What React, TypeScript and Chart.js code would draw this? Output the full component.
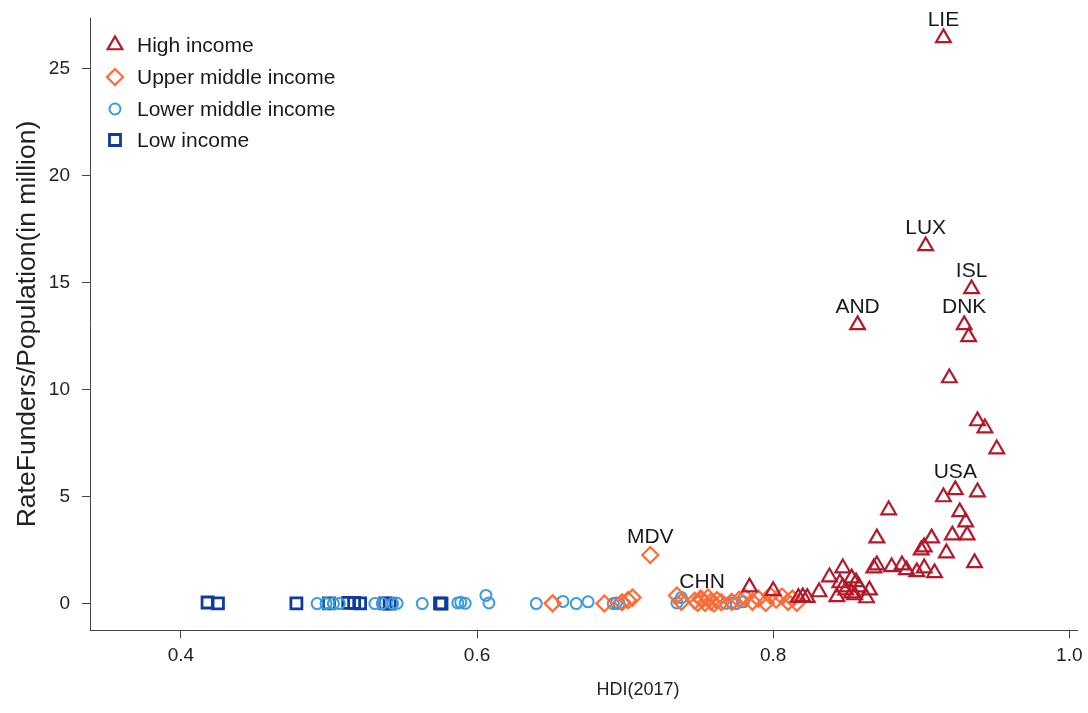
import React, { useEffect, useRef } from 'react';
import { Chart, registerables } from 'chart.js';

Chart.register(...registerables);

const FONT = "'Liberation Sans', Arial, Helvetica, sans-serif";

// ---- Data (HDI 2017 vs RateFunders/Population in million) ----
const highHDI = [0.784, 0.800, 0.817, 0.820, 0.823, 0.831, 0.838, 0.843, 0.845, 0.847, 0.847, 0.849, 0.853, 0.853, 0.855, 0.856, 0.858, 0.863, 0.865, 0.868, 0.870, 0.870, 0.878, 0.880, 0.887, 0.890, 0.897, 0.900, 0.902, 0.902, 0.907, 0.909, 0.917, 0.921, 0.926, 0.930, 0.931, 0.936, 0.915, 0.923, 0.938, 0.951, 0.943, 0.938, 0.919, 0.932, 0.929, 0.857, 0.934, 0.903, 0.915];
const highRate = [0.79, 0.62, 0.30, 0.33, 0.30, 0.56, 1.26, 0.33, 0.98, 1.68, 0.79, 0.65, 1.21, 0.51, 0.42, 1.03, 0.79, 0.28, 0.65, 1.68, 1.82, 3.08, 4.39, 1.73, 1.82, 1.59, 1.50, 2.52, 2.66, 1.68, 3.08, 1.45, 2.38, 3.22, 4.30, 3.83, 3.22, 1.92, 5.00, 5.33, 5.23, 7.24, 8.22, 8.55, 10.56, 12.48, 13.04, 13.04, 14.72, 16.73, 26.45];
const highCode = ['', '', '', '', '', '', '', '', '', '', '', '', '', '', '', '', '', '', '', '', '', '', '', '', '', '', '', '', '', '', '', '', '', '', '', '', '', '', '', 'USA', '', '', '', '', '', '', 'DNK', 'AND', 'ISL', 'LUX', 'LIE'];

const upperHDI = [0.651, 0.686, 0.698, 0.702, 0.705, 0.717, 0.735, 0.738, 0.747, 0.749, 0.751, 0.752, 0.754, 0.756, 0.758, 0.760, 0.762, 0.765, 0.772, 0.777, 0.781, 0.786, 0.790, 0.795, 0.798, 0.802, 0.806, 0.810, 0.813, 0.816];
const upperRate = [0.03, 0.02, 0.08, 0.18, 0.30, 2.29, 0.40, 0.10, 0.15, 0.05, 0.25, 0.20, 0.05, 0.30, 0.10, 0.02, 0.18, 0.08, 0.10, 0.20, 0.30, 0.10, 0.25, 0.05, 0.40, 0.20, 0.35, 0.10, 0.25, 0.05];
const upperCode = ['', '', '', '', '', 'MDV', '', '', '', '', '', 'CHN', '', '', '', '', '', '', '', '', '', '', '', '', '', '', '', '', '', ''];

const lowerHDI = [0.492, 0.498, 0.503, 0.507, 0.531, 0.536, 0.543, 0.546, 0.563, 0.587, 0.589, 0.592, 0.606, 0.608, 0.640, 0.658, 0.667, 0.675, 0.692, 0.694, 0.696, 0.735, 0.738, 0.768, 0.772, 0.775, 0.780];
const lowerRate = [0.02, 0.02, 0.02, 0.02, 0.02, 0.02, 0.02, 0.03, 0.02, 0.05, 0.08, 0.03, 0.40, 0.05, 0.02, 0.12, 0.02, 0.10, 0.02, 0.05, 0.02, 0.05, 0.30, 0.03, 0.05, 0.02, 0.10];

const lowHDI = [0.418, 0.425, 0.478, 0.500, 0.513, 0.517, 0.521, 0.538, 0.541, 0.575, 0.576];
const lowRate = [0.07, 0.03, 0.03, 0.03, 0.05, 0.05, 0.03, 0.03, 0.02, 0.03, 0.02];

const xTickValues = [0.4, 0.6, 0.8, 1.0];
const yTickValues = [0, 5, 10, 15, 20, 25];

const xTitle = 'HDI(2017)';
const yTitle = 'RateFunders/Population(in million)';

const seriesNames = ['High income', 'Upper middle income', 'Lower middle income', 'Low income'];
const seriesColors = ['#b3192b', '#ff6b35', '#3c9ade', '#0c3c9e'];
const seriesShapes = ['triangle', 'rectRot', 'circle', 'rect'];

const toPoints = (xs: number[], ys: number[]) => xs.map((x, i) => ({ x, y: ys[i] }));

function drawShape(ctx: CanvasRenderingContext2D, shape: string, x: number, y: number, color: string) {
  ctx.save();
  ctx.strokeStyle = color;
  ctx.beginPath();
  if (shape === 'triangle') {
    const r = 8.5;
    ctx.lineWidth = 2.2;
    ctx.moveTo(x, y - r);
    ctx.lineTo(x + r * Math.sin((2 * Math.PI) / 3), y + r / 2);
    ctx.lineTo(x - r * Math.sin((2 * Math.PI) / 3), y + r / 2);
    ctx.closePath();
  } else if (shape === 'rectRot') {
    const r = 8;
    ctx.lineWidth = 2.2;
    ctx.moveTo(x, y - r);
    ctx.lineTo(x + r, y);
    ctx.lineTo(x, y + r);
    ctx.lineTo(x - r, y);
    ctx.closePath();
  } else if (shape === 'circle') {
    ctx.lineWidth = 2;
    ctx.arc(x, y, 5.5, 0, Math.PI * 2);
  } else {
    const s = 5.5;
    ctx.lineWidth = 2.8;
    ctx.rect(x - s, y - s, 2 * s, 2 * s);
  }
  ctx.stroke();
  ctx.restore();
}

const pointLabelPlugin = {
  id: 'pointLabels',
  afterDatasetsDraw(chart: any) {
    const ctx = chart.ctx as CanvasRenderingContext2D;
    ctx.save();
    ctx.font = `21px ${FONT}`;
    ctx.fillStyle = '#1a1a1a';
    ctx.textAlign = 'center';
    ctx.textBaseline = 'middle';
    chart.data.datasets.forEach((ds: any, i: number) => {
      const codes: string[] | undefined = ds.codes;
      if (!codes) return;
      const meta = chart.getDatasetMeta(i);
      meta.data.forEach((el: any, j: number) => {
        const c = codes[j];
        if (c) ctx.fillText(c, el.x, el.y - 18);
      });
    });
    ctx.restore();
  },
};

const legendPlugin = {
  id: 'insideLegend',
  afterDraw(chart: any) {
    const ctx = chart.ctx as CanvasRenderingContext2D;
    const { left, top } = chart.chartArea;
    const sx = left + 25;
    const tx = left + 47;
    const ys = [top + 27, top + 59, top + 91, top + 122];
    ctx.save();
    ctx.font = `21px ${FONT}`;
    ctx.fillStyle = '#1a1a1a';
    ctx.textAlign = 'left';
    ctx.textBaseline = 'middle';
    seriesNames.forEach((name, i) => {
      drawShape(ctx, seriesShapes[i], sx, ys[i], seriesColors[i]);
      ctx.fillText(name, tx, ys[i] + 1);
    });
    // x-axis title (placed as in the reference, right of plot centre)
    ctx.font = `18px ${FONT}`;
    ctx.fillStyle = '#222';
    ctx.textAlign = 'center';
    ctx.fillText(xTitle, 638, 690);
    ctx.restore();
  },
};

export default function App() {
  const canvasRef = useRef<HTMLCanvasElement | null>(null);

  useEffect(() => {
    if (!canvasRef.current) return;
    const mk = (label: string, xs: number[], ys: number[], idx: number, radius: number, bw: number, codes?: string[]) => ({
      label,
      data: toPoints(xs, ys),
      codes,
      pointStyle: seriesShapes[idx],
      pointRadius: radius,
      pointHoverRadius: radius,
      pointBorderWidth: bw,
      pointBorderColor: seriesColors[idx],
      pointBackgroundColor: 'rgba(0,0,0,0)',
      borderColor: seriesColors[idx],
      backgroundColor: 'rgba(0,0,0,0)',
      showLine: false,
    });
    const chart = new Chart(canvasRef.current, {
      type: 'scatter',
      data: {
        datasets: [
          mk(seriesNames[0], highHDI, highRate, 0, 8.5, 2.2, highCode),
          mk(seriesNames[1], upperHDI, upperRate, 1, 8, 2.2, upperCode),
          mk(seriesNames[2], lowerHDI, lowerRate, 2, 5.5, 2),
          mk(seriesNames[3], lowHDI, lowRate, 3, 7.8, 2.8),
        ] as any,
      },
      options: {
        animation: false,
        responsive: false,
        events: [],
        layout: { padding: { top: 18, right: 1, left: 0, bottom: 0 } },
        plugins: {
          legend: { display: false },
          tooltip: { enabled: false },
        },
        scales: {
          x: {
            type: 'linear',
            min: 0.3386,
            max: 1.0054,
            afterFit: (s: any) => { s.height = 83; s.paddingLeft = 0; s.paddingRight = 0; },
            afterBuildTicks: (s: any) => { s.ticks = xTickValues.map((v) => ({ value: v })); },
            border: { display: true, color: '#444', width: 1 },
            grid: { display: true, drawOnChartArea: false, drawTicks: true, tickLength: 8, color: '#444' },
            ticks: {
              autoSkip: false,
              maxRotation: 0,
              padding: 6,
              color: '#222',
              font: { size: 19, family: FONT },
              callback: (v: any) => Number(v).toFixed(1),
            },
            title: { display: false, text: xTitle },
          },
          y: {
            type: 'linear',
            min: -1.215,
            max: 27.38,
            afterFit: (s: any) => { s.width = 90; s.paddingTop = 0; s.paddingBottom = 0; },
            afterBuildTicks: (s: any) => { s.ticks = yTickValues.map((v) => ({ value: v })); },
            border: { display: true, color: '#444', width: 1 },
            grid: { display: true, drawOnChartArea: false, drawTicks: true, tickLength: 8, color: '#444' },
            ticks: {
              autoSkip: false,
              padding: 12,
              color: '#222',
              font: { size: 19, family: FONT },
              callback: (v: any) => String(v),
            },
            title: {
              display: true,
              text: yTitle,
              color: '#222',
              font: { size: 26.5, family: FONT },
              padding: { top: 12, bottom: 0 },
            },
          },
        },
      } as any,
      plugins: [pointLabelPlugin, legendPlugin],
    });
    return () => chart.destroy();
  }, []);

  return (
    <div style={{ position: 'fixed', left: 0, top: 0, width: 1088, height: 713, background: '#fff' }}>
      <canvas ref={canvasRef} width={1088} height={713} />
    </div>
  );
}
